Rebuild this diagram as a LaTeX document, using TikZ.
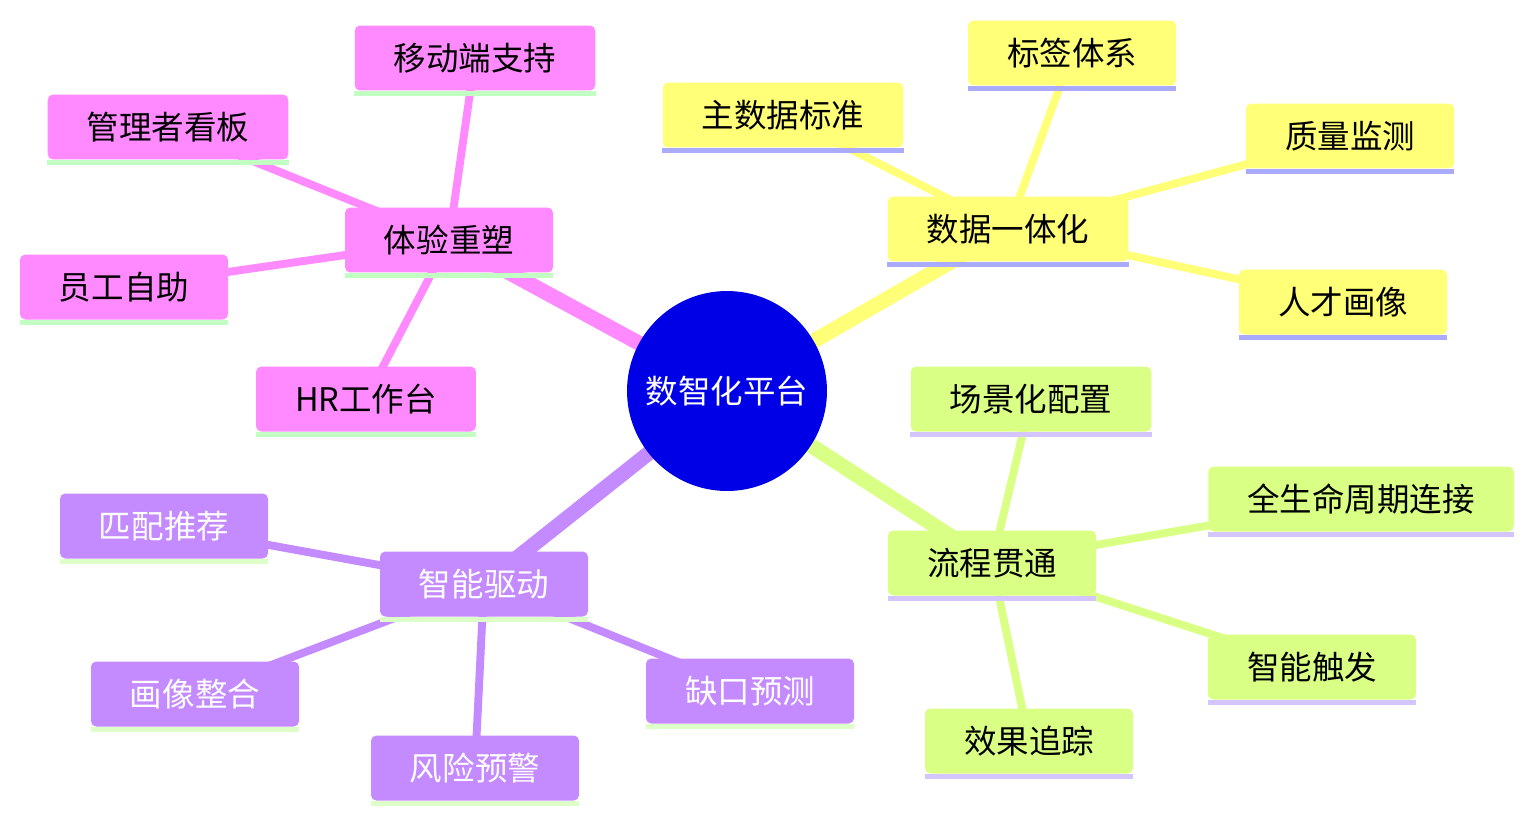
\documentclass[tikz,border=0pt]{standalone}
\usepackage{fontspec}
\setmainfont{Noto Sans CJK SC}
\usetikzlibrary{backgrounds}
\definecolor{rootblue}{HTML}{0000E6}
\definecolor{pinkbr}{HTML}{FF8AFF}
\definecolor{pinkstrip}{HTML}{C2FFC2}
\definecolor{yellowbr}{HTML}{FFFF78}
\definecolor{yellowstrip}{HTML}{AAAAFF}
\definecolor{limebr}{HTML}{D9FF85}
\definecolor{limestrip}{HTML}{D5C5FF}
\definecolor{purplebr}{HTML}{C48AFF}
\definecolor{purplestrip}{HTML}{DDFFC8}
\tikzset{
  topic/.style={rectangle,rounded corners=3pt,inner xsep=0.78cm,minimum height=1.3cm,font=\fontsize{18.5}{21}\selectfont},
  pinkbox/.style={topic,fill=pinkbr},
  yellowbox/.style={topic,fill=yellowbr},
  limebox/.style={topic,fill=limebr},
  purplebox/.style={topic,fill=purplebr,text=white},
  trunk/.style={line width=8.5pt},
  twig/.style={line width=4.5pt}
}
\begin{document}
\begin{tikzpicture}[x=0.02cm,y=-0.02cm]
    \useasboundingbox (0,0) rectangle (1532,822);
    % Zentrum
    \node[circle,fill=rootblue,minimum size=4cm,inner sep=0pt,text=white,font=\fontsize{18.5}{21}\selectfont] (root) at (727,391) {数智化平台};

    % Zweige
    \foreach \x/\y/\txt/\id in {449/240/体验重塑/exp,475/58/移动端支持/mob,168/127/管理者看板/mgr,124/287/员工自助/ess,366/399/HR工作台/hrw}
        \node[pinkbox] (\id) at (\x,\y) {\txt};
    \foreach \x/\y/\txt/\id in {1008/229/数据一体化/dat,783/115/主数据标准/mst,1072/53/标签体系/tag,1350/136/质量监测/qua,1343/302/人才画像/tal}
        \node[yellowbox] (\id) at (\x,\y) {\txt};
    \foreach \x/\y/\txt/\id in {992/563/流程贯通/flo,1031/399/场景化配置/scn,1361/499/全生命周期连接/lif,1312/667/智能触发/trg,1029/741/效果追踪/trk}
        \node[limebox] (\id) at (\x,\y) {\txt};
    \foreach \x/\y/\txt/\id in {484/584/智能驱动/ai,164/526/匹配推荐/mat,195/694/画像整合/prf,475/768/风险预警/rsk,750/691/缺口预测/gap}
        \node[purplebox] (\id) at (\x,\y) {\txt};

    % Unterstreichungen
    \foreach \id in {exp,mob,mgr,ess,hrw}
        \fill[pinkstrip] (\id.south west) rectangle ([yshift=-0.1cm]\id.south east);
    \foreach \id in {dat,mst,tag,qua,tal}
        \fill[yellowstrip] (\id.south west) rectangle ([yshift=-0.1cm]\id.south east);
    \foreach \id in {flo,scn,lif,trg,trk}
        \fill[limestrip] (\id.south west) rectangle ([yshift=-0.1cm]\id.south east);
    \foreach \id in {ai,mat,prf,rsk,gap}
        \fill[purplestrip] (\id.south west) rectangle ([yshift=-0.1cm]\id.south east);

    % Verbindungen
    \begin{scope}[on background layer]
        \draw[trunk,pinkbr] (root.center) -- (exp.center);
        \foreach \leaf in {mob,mgr,ess,hrw}
            \draw[twig,pinkbr] (exp.center) -- (\leaf.center);
        \draw[trunk,yellowbr] (root.center) -- (dat.center);
        \foreach \leaf in {mst,tag,qua,tal}
            \draw[twig,yellowbr] (dat.center) -- (\leaf.center);
        \draw[trunk,limebr] (root.center) -- (flo.center);
        \foreach \leaf in {scn,lif,trg,trk}
            \draw[twig,limebr] (flo.center) -- (\leaf.center);
        \draw[trunk,purplebr] (root.center) -- (ai.center);
        \foreach \leaf in {mat,prf,rsk,gap}
            \draw[twig,purplebr] (ai.center) -- (\leaf.center);
    \end{scope}
\end{tikzpicture}
\end{document}
